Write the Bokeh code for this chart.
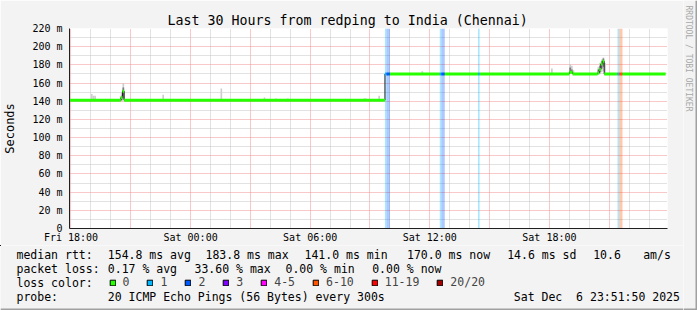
import math
from bokeh.plotting import figure
from bokeh.layouts import row, column
from bokeh.models import (Range1d, FixedTicker, Legend, LegendItem, ColumnDataSource, Title)
from bokeh.core.properties import value
from bokeh.embed import file_html
from bokeh.resources import INLINE

# ---------------- data ----------------
STEP = 5 / 60.0                      # one SmokePing sample = 5 minutes (hours)

# time axis: hours after Fri 18:00
x_tick_hours = [0, 6, 12, 18, 24]
x_tick_labels = ["Fri 18:00", "Sat 00:00", "Sat 06:00", "Sat 12:00", "Sat 18:00"]
y_ticks = [0, 20, 40, 60, 80, 100, 120, 140, 160, 180, 200, 220]
y_tick_labels = ["0", "20 m", "40 m", "60 m", "80 m", "100 m", "120 m",
                 "140 m", "160 m", "180 m", "200 m", "220 m"]

# median RTT (ms); each value holds from its time until the next time
median_t = [-0.0833, 2.5, 2.5833, 2.6667, 15.75, 25.0, 25.1667,
            26.4167, 26.5, 26.5833, 26.6667, 26.75]
median_v = [141, 144, 151, 141, 170, 172, 170, 171, 175, 181, 184, 170]
data_end = 29.8

# packet loss (pings lost of 20) per 5-minute sample
loss_t = [15.75, 15.8333, 15.9167, 18.5, 18.5833, 18.6667, 20.4167,
          27.4167, 27.5, 27.5833]
loss_n = [1, 2, 2, 1, 2, 2, 1, 1, 7, 7]

# smoke: spread of the 20 pings (ms) per sample
smoke_t = [0.5, 1.0, 1.0833, 1.1667, 2.5, 2.5833, 4.5833, 7.5, 9.6667, 10.25,
           10.8333, 14.6667, 14.75, 15.4167, 17.5833, 24.0833, 25.0, 25.0833,
           25.1667, 26.4167, 26.5, 26.5833, 26.6667, 26.75]
smoke_lo = [141, 140, 140, 140, 140, 141, 141, 141, 141, 141,
            141, 141, 141, 141, 170, 170, 170, 170,
            170, 169, 170, 172, 173, 170]
smoke_hi = [142.5, 148, 146, 146, 150, 160, 147, 154, 144, 143,
            143, 143, 143, 146, 173, 176, 181, 179,
            174, 178, 182, 186, 188, 182]
# denser core of the smoke
core_t = [2.5, 2.5833, 25.0, 25.0833, 26.4167, 26.5, 26.5833, 26.6667]
core_lo = [141, 143, 171, 171, 170, 172, 176, 178]
core_hi = [146, 155, 177, 175, 175, 179, 184, 187]

loss_classes = ["0", "1", "2", "3", "4-5", "6-10", "11-19", "20/20"]
loss_colors = ["#26ff00", "#00b8ff", "#0059ff", "#7e00ff", "#ff00ff",
               "#ff5500", "#ff0000", "#a10000"]

title_text = "Last 30 Hours from redping to India (Chennai)"
side_text = "RRDTOOL / TOBI OETIKER"
legend_rows = [
    ["median rtt:", "154.8 ms avg", "183.8 ms max", "141.0 ms min",
     "170.0 ms now", "14.6 ms sd", "10.6", "am/s"],
    ["packet loss:", "0.17 % avg", "33.60 % max", "0.00 % min", "0.00 % now"],
    ["loss color:"],
    ["probe:", "20 ICMP Echo Pings (56 Bytes) every 300s", "Sat Dec  6 23:51:50 2025"],
]

# ---------------- layout (pixels) ----------------
W, H = 697, 310
SIDE_W = 14
MAIN_W = W - SIDE_W
MAIN_H = 245
FL, FT, FW, FH = 67, 28, 600, 200
X0 = -0.075
X1 = X0 + 30
Y0, Y1 = 0, 220
MONO = "DejaVu Sans Mono"
BG = "#f3f3f3"
legend_x = [
    [16, 107.3, 205, 304, 406.5, 506.7, 592.7, 642.7],
    [16, 107.3, 194, 285, 371.7],
    [16],
    [16, 107.3, 513.3],
]
legend_y = [254.3, 268.3, 282.3, 296.0]


def loss_class(n):
    if n <= 3:
        return n
    if n <= 5:
        return 4
    if n <= 10:
        return 5
    if n <= 19:
        return 6
    return 7


p = figure(width=MAIN_W, height=MAIN_H, x_range=Range1d(X0, X1), y_range=Range1d(Y0, Y1),
           output_backend="svg", toolbar_location=None,
           min_border_left=FL, min_border_right=MAIN_W - FL - FW,
           min_border_top=FT, min_border_bottom=MAIN_H - FT - FH,
           background_fill_color="white", border_fill_color=BG,
           outline_line_color=None)
p.frame_align = False
p.title = Title(text=title_text, align="left", offset=98, text_font=MONO,
                text_font_size="13.3px", text_font_style="normal",
                text_color="black", standoff=2, vertical_align="bottom")

# grid
p.xgrid.ticker = FixedTicker(ticks=list(range(0, 30, 3)),
                             minor_ticks=[h for h in range(0, 30) if h % 3])
p.ygrid.ticker = FixedTicker(ticks=y_ticks, minor_ticks=list(range(10, 220, 20)))
for g in (p.xgrid, p.ygrid):
    g.grid_line_color = "#f29090"
    g.grid_line_dash = "1 1"
    g.minor_grid_line_color = "#c4c4c4"
    g.minor_grid_line_dash = "1 1"

# axes
p.xaxis.ticker = FixedTicker(ticks=x_tick_hours)
p.xaxis.major_label_overrides = dict(zip(x_tick_hours, x_tick_labels))
p.yaxis.ticker = FixedTicker(ticks=y_ticks)
p.yaxis.major_label_overrides = dict(zip(y_ticks, y_tick_labels))
for ax in (p.xaxis[0], p.yaxis[0]):
    ax.major_label_text_font = MONO
    ax.major_label_text_font_size = "10px"
    ax.major_label_text_color = "black"
    ax.axis_line_color = "#202020"
    ax.major_tick_in = 0
    ax.major_tick_out = 0
    ax.minor_tick_in = 0
    ax.minor_tick_out = 0
p.xaxis.major_label_standoff = 3
p.yaxis.major_label_standoff = 7
p.yaxis.axis_label = "Seconds"
p.yaxis.axis_label_text_font = MONO
p.yaxis.axis_label_text_font_size = "12px"
p.yaxis.axis_label_text_font_style = "normal"
p.yaxis.axis_label_text_color = "black"
p.yaxis.axis_label_standoff = 12

# loss background bars
lsrc = ColumnDataSource(dict(
    x=[t + STEP / 2 for t in loss_t],
    color=[loss_colors[loss_class(n)] for n in loss_n]))
p.vbar(x="x", width=STEP, bottom=Y0, top=Y1, source=lsrc, fill_color="color",
       fill_alpha=0.33, line_color=None)

# smoke
p.vbar(x=[t + STEP / 2 for t in smoke_t], width=STEP, bottom=smoke_lo, top=smoke_hi,
       fill_color="#cdcdcd", line_color=None)
p.vbar(x=[t + STEP / 2 for t in core_t], width=STEP, bottom=core_lo, top=core_hi,
       fill_color="#7a7a7a", line_color=None)

# dark median line (shows the steps)
p.step(x=median_t + [data_end], y=median_v + [median_v[-1]], mode="after",
       line_color="#202020", line_width=1)

# loss-coloured median band, sample by sample, merged where equal
seg = dict(x0=[], x1=[], y=[], color=[])
t = median_t[0]
cur = None
while t < data_end - 1e-6:
    idx = max(i for i, mt in enumerate(median_t) if mt <= t + 1e-3)
    v = median_v[idx]
    c = loss_colors[0]
    for lt, ln in zip(loss_t, loss_n):
        if abs(lt - t) < 0.01:
            c = loss_colors[loss_class(ln)]
    if cur and cur[2] == v and cur[3] == c:
        cur[1] = t + STEP
    else:
        if cur:
            seg["x0"].append(cur[0]); seg["x1"].append(cur[1])
            seg["y"].append(cur[2]); seg["color"].append(cur[3])
        cur = [t, t + STEP, v, c]
    t += STEP
if cur:
    seg["x0"].append(cur[0]); seg["x1"].append(cur[1])
    seg["y"].append(cur[2]); seg["color"].append(cur[3])
p.segment(x0="x0", x1="x1", y0="y", y1="y", source=ColumnDataSource(seg),
          line_color="color", line_width=3, line_cap="butt")

# ---------------- legend panel ----------------
LEG_H = H - MAIN_H
lg = figure(width=MAIN_W, height=LEG_H, x_range=Range1d(0, MAIN_W),
            y_range=Range1d(H, MAIN_H), output_backend="svg", toolbar_location=None,
            x_axis_location=None, y_axis_location=None, min_border=0,
            background_fill_color=BG, border_fill_color=BG, outline_line_color=None)
lg.frame_align = False
lg.grid.visible = False
tx, ty, tt = [], [], []
for texts, xs, yy in zip(legend_rows, legend_x, legend_y):
    for txt, xx in zip(texts, xs):
        tx.append(xx); ty.append(yy)
        tt.append(txt.replace("  ", " \u00a0"))   # keep double spaces visible
lg.text(x=tx, y=ty, text=tt, text_font=value(MONO), text_font_size=value("11.5px"),
        text_align="left", text_baseline="middle", text_color="black")
lg.hspan(y=[H - 1], line_color="#a0a0a0", line_width=2)

items = []
for cls, col in zip(loss_classes, loss_colors):
    # swatch renderer only feeds the legend; its single bar lies outside the view
    r = lg.vbar(x=[-100], bottom=[0], top=[1], width=1, fill_color=col,
                line_color="black")
    items.append(LegendItem(label=cls, renderers=[r]))
legend = Legend(items=items, orientation="horizontal",
                location=(108.5, H - 282.3 - 7),
                glyph_width=7, glyph_height=7, label_standoff=7, spacing=17,
                padding=0, margin=0, border_line_color=None,
                background_fill_alpha=0, label_width=0, label_height=14,
                label_text_font=MONO, label_text_font_size="11.5px",
                label_text_baseline="middle")
lg.add_layout(legend, "center")

# ---------------- side strip ----------------
sd = figure(width=SIDE_W, height=H, x_range=Range1d(MAIN_W, W), y_range=Range1d(H, 0),
            output_backend="svg", toolbar_location=None,
            x_axis_location=None, y_axis_location=None, min_border=0,
            background_fill_color=BG, border_fill_color=BG, outline_line_color=None)
sd.frame_align = False
sd.grid.visible = False
sd.text(x=[688], y=[5], text=[side_text], angle=-math.pi / 2,
        text_font=value(MONO), text_font_size=value("8px"), text_align="left",
        text_baseline="middle", text_color="#a8a8a8")
sd.vspan(x=[W - 1], line_color="#a0a0a0", line_width=2)
sd.hspan(y=[H - 1], line_color="#a0a0a0", line_width=2)

layout = row(column(p, lg, spacing=0), sd, spacing=0)
open("out.html", "w").write(file_html(layout, INLINE))
